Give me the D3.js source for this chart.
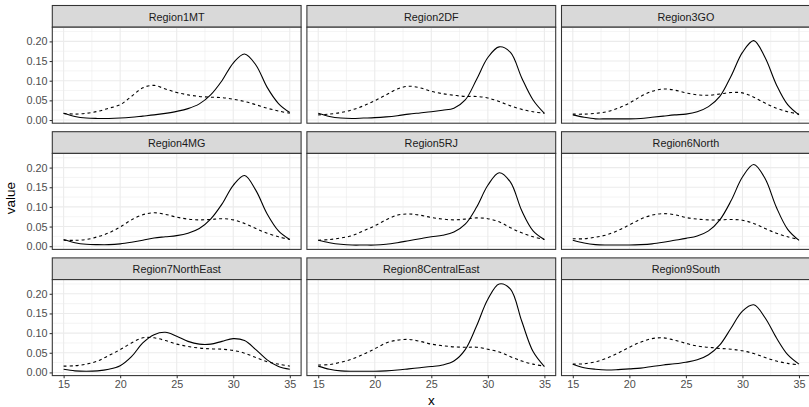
<!DOCTYPE html>
<html>
<head>
<meta charset="utf-8">
<script src="https://cdn.jsdelivr.net/npm/d3@7"></script>
<style>
  html, body { margin: 0; padding: 0; background: #ffffff; }
  svg { display: block; }
</style>
</head>
<body>
<svg id="chart" width="809" height="407"></svg>
<script>
// ---- data ----
const regions = ["Region1MT", "Region2DF", "Region3GO", "Region4MG", "Region5RJ",
                 "Region6North", "Region7NorthEast", "Region8CentralEast", "Region9South"];
const xValues = [15,16,17,18,19,20,21,22,23,24,25,26,27,28,29,30,31,32,33,34,35];
const xTicks = [15, 20, 25, 30, 35];
const yTicks = [0, 0.05, 0.10, 0.15, 0.20];
const yTickLabels = ["0.00", "0.05", "0.10", "0.15", "0.20"];

// solid line series per region
const solid = [
  [0.017,0.009,0.005,0.004,0.004,0.005,0.007,0.010,0.013,0.017,0.022,0.029,0.041,0.064,0.100,0.145,0.168,0.140,0.083,0.042,0.019],
  [0.017,0.009,0.005,0.004,0.005,0.006,0.008,0.011,0.015,0.018,0.021,0.025,0.030,0.051,0.103,0.159,0.186,0.172,0.107,0.051,0.017],
  [0.013,0.007,0.003,0.003,0.003,0.003,0.004,0.007,0.010,0.013,0.015,0.021,0.034,0.060,0.112,0.172,0.202,0.159,0.090,0.039,0.013],
  [0.017,0.009,0.005,0.004,0.004,0.006,0.010,0.015,0.021,0.024,0.027,0.033,0.045,0.069,0.107,0.155,0.180,0.142,0.082,0.039,0.017],
  [0.015,0.009,0.005,0.003,0.003,0.003,0.005,0.009,0.014,0.019,0.024,0.028,0.036,0.056,0.099,0.155,0.187,0.163,0.090,0.039,0.017],
  [0.015,0.008,0.004,0.003,0.003,0.003,0.004,0.006,0.010,0.015,0.020,0.026,0.039,0.067,0.116,0.176,0.208,0.172,0.099,0.043,0.015],
  [0.008,0.004,0.003,0.004,0.008,0.017,0.040,0.075,0.096,0.102,0.092,0.079,0.072,0.072,0.079,0.086,0.081,0.058,0.032,0.015,0.008],
  [0.016,0.008,0.004,0.003,0.003,0.003,0.004,0.006,0.009,0.012,0.015,0.019,0.029,0.058,0.118,0.186,0.225,0.212,0.130,0.053,0.015],
  [0.021,0.012,0.008,0.006,0.007,0.009,0.011,0.015,0.019,0.022,0.026,0.032,0.045,0.070,0.113,0.156,0.172,0.139,0.088,0.045,0.021]
];
// dashed line series per region
const dashed = [
  [0.017,0.015,0.017,0.022,0.030,0.039,0.060,0.082,0.088,0.079,0.070,0.064,0.060,0.058,0.057,0.053,0.047,0.039,0.030,0.023,0.017],
  [0.013,0.015,0.019,0.026,0.036,0.049,0.064,0.079,0.086,0.082,0.073,0.067,0.063,0.060,0.060,0.056,0.047,0.036,0.027,0.021,0.017],
  [0.015,0.015,0.017,0.021,0.030,0.043,0.060,0.073,0.079,0.076,0.069,0.064,0.063,0.066,0.070,0.069,0.058,0.043,0.030,0.021,0.015],
  [0.015,0.015,0.017,0.024,0.034,0.049,0.067,0.080,0.085,0.081,0.074,0.069,0.067,0.068,0.070,0.067,0.058,0.045,0.033,0.024,0.017],
  [0.015,0.017,0.021,0.027,0.039,0.052,0.067,0.079,0.082,0.079,0.073,0.069,0.067,0.069,0.072,0.070,0.062,0.047,0.034,0.024,0.017],
  [0.019,0.019,0.023,0.029,0.040,0.054,0.069,0.079,0.083,0.080,0.073,0.069,0.067,0.067,0.068,0.066,0.058,0.045,0.033,0.024,0.017],
  [0.016,0.017,0.021,0.029,0.043,0.058,0.075,0.088,0.088,0.081,0.072,0.066,0.062,0.060,0.059,0.056,0.049,0.038,0.027,0.021,0.016],
  [0.019,0.020,0.026,0.034,0.046,0.060,0.075,0.082,0.084,0.079,0.072,0.068,0.065,0.064,0.064,0.059,0.052,0.040,0.029,0.021,0.016],
  [0.021,0.022,0.027,0.036,0.049,0.064,0.077,0.086,0.088,0.082,0.074,0.067,0.064,0.061,0.059,0.055,0.048,0.038,0.029,0.023,0.019]
];

// ---- layout ----
const svg = d3.select("#chart");
const panelLeft0 = 52.3, panelW = 248.8, colGap = 5.8;
const stripTop0 = 5.5, stripH = 21.7, panelH = 96, rowPitch = 126.2;

const allVals = solid.flat().concat(dashed.flat());
const yMin = d3.min(allVals), yMax = d3.max(allVals);
const yPad = (yMax - yMin) * 0.05;
const xPad = (d3.max(xValues) - d3.min(xValues)) * 0.05;

const x = d3.scaleLinear().domain([d3.min(xValues) - xPad, d3.max(xValues) + xPad]).range([0, panelW]);
const y = d3.scaleLinear().domain([yMin - yPad, yMax + yPad]).range([panelH, 0]);

const xMinor = [12.5, 17.5, 22.5, 27.5, 32.5];
const yMinor = [0.025, 0.075, 0.125, 0.175, 0.225];

const line = d3.line().x(d => x(d[0])).y(d => y(d[1])).curve(d3.curveCatmullRom.alpha(0.5));

regions.forEach((name, i) => {
  const col = i % 3, row = Math.floor(i / 3);
  const px = panelLeft0 + col * (panelW + colGap);
  const sy = stripTop0 + row * rowPitch;
  const py = sy + stripH;

  // strip
  svg.append("rect").attr("x", px).attr("y", sy).attr("width", panelW).attr("height", stripH)
    .attr("fill", "#d9d9d9").attr("stroke", "#333333").attr("stroke-width", 1.07);
  svg.append("text").attr("x", px + panelW / 2).attr("y", sy + stripH / 2 + 0.5)
    .attr("text-anchor", "middle").attr("dominant-baseline", "central")
    .attr("font-family", "Liberation Sans, Arial, sans-serif").attr("font-size", 10.8)
    .attr("fill", "#1a1a1a").text(name);

  const g = svg.append("g").attr("transform", `translate(${px},${py})`);
  g.append("rect").attr("width", panelW).attr("height", panelH).attr("fill", "#ffffff");
  const clipId = "clip" + i;
  g.append("clipPath").attr("id", clipId).append("rect").attr("width", panelW).attr("height", panelH);
  const grid = g.append("g").attr("clip-path", `url(#${clipId})`);

  // minor grid
  grid.selectAll(".xm").data(xMinor).join("line")
    .attr("x1", d => x(d)).attr("x2", d => x(d)).attr("y1", 0).attr("y2", panelH)
    .attr("stroke", "#ebebeb").attr("stroke-width", 0.53);
  grid.selectAll(".ym").data(yMinor).join("line")
    .attr("y1", d => y(d)).attr("y2", d => y(d)).attr("x1", 0).attr("x2", panelW)
    .attr("stroke", "#ebebeb").attr("stroke-width", 0.53);
  // major grid
  grid.selectAll(".xM").data(xTicks).join("line")
    .attr("x1", d => x(d)).attr("x2", d => x(d)).attr("y1", 0).attr("y2", panelH)
    .attr("stroke", "#ebebeb").attr("stroke-width", 1.07);
  grid.selectAll(".yM").data(yTicks).join("line")
    .attr("y1", d => y(d)).attr("y2", d => y(d)).attr("x1", 0).attr("x2", panelW)
    .attr("stroke", "#ebebeb").attr("stroke-width", 1.07);

  // lines
  const solidPts = xValues.map((xv, k) => [xv, solid[i][k]]);
  const dashPts = xValues.map((xv, k) => [xv, dashed[i][k]]);
  grid.append("path").attr("d", line(dashPts)).attr("fill", "none")
    .attr("stroke", "#000").attr("stroke-width", 1.1).attr("stroke-dasharray", "3,3");
  grid.append("path").attr("d", line(solidPts)).attr("fill", "none")
    .attr("stroke", "#000").attr("stroke-width", 1.1);

  // border
  g.append("rect").attr("width", panelW).attr("height", panelH)
    .attr("fill", "none").attr("stroke", "#333333").attr("stroke-width", 1.07);

  // y axis on first column
  if (col === 0) {
    const ya = d3.axisLeft(y).tickValues(yTicks).tickFormat((d, k) => yTickLabels[k]).tickSize(2.7).tickPadding(2);
    const ag = g.append("g").call(ya);
    ag.select(".domain").remove();
    ag.selectAll(".tick line").attr("stroke", "#333333").attr("stroke-width", 1.07);
    ag.selectAll(".tick text").attr("fill", "#4d4d4d").attr("font-size", 10.8)
      .attr("font-family", "Liberation Sans, Arial, sans-serif");
  }
  // x axis on bottom row
  if (row === 2) {
    const xa = d3.axisBottom(x).tickValues(xTicks).tickSize(2.7).tickPadding(2);
    const ag = g.append("g").attr("transform", `translate(0,${panelH})`).call(xa);
    ag.select(".domain").remove();
    ag.selectAll(".tick line").attr("stroke", "#333333").attr("stroke-width", 1.07);
    ag.selectAll(".tick text").attr("fill", "#4d4d4d").attr("font-size", 10.8)
      .attr("font-family", "Liberation Sans, Arial, sans-serif");
  }
});

// axis titles
const plotRight = panelLeft0 + 3 * panelW + 2 * colGap;
svg.append("text").attr("x", (panelLeft0 + plotRight) / 2).attr("y", 405)
  .attr("text-anchor", "middle").attr("font-family", "Liberation Sans, Arial, sans-serif")
  .attr("font-size", 13.5).attr("fill", "#000").text("x");
svg.append("text").attr("transform", `translate(15,198) rotate(-90)`)
  .attr("text-anchor", "middle").attr("font-family", "Liberation Sans, Arial, sans-serif")
  .attr("font-size", 13.5).attr("fill", "#000").text("value");
</script>
</body>
</html>
